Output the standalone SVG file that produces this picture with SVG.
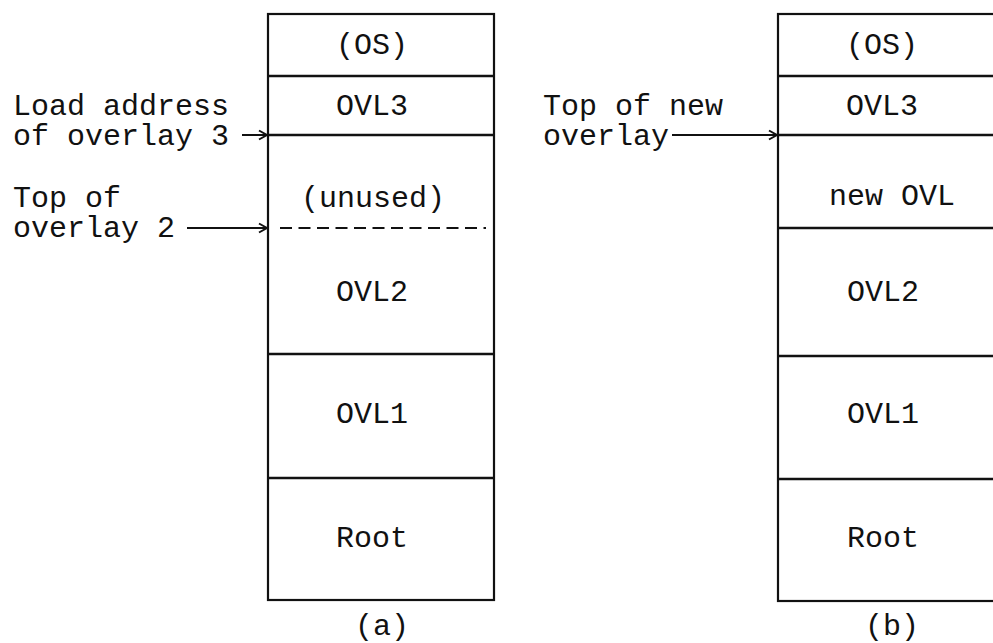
<svg xmlns="http://www.w3.org/2000/svg" width="993" height="643" viewBox="0 0 993 643">
  <style>
    text { font-family: "Liberation Mono", "DejaVu Sans Mono", monospace; font-size: 30px; fill: #111; }
    .c { text-anchor: middle; }
    .box { fill: none; stroke: #111; stroke-width: 2.2; }
    .div { stroke: #111; stroke-width: 2.6; }
    .arr { stroke: #111; stroke-width: 2; fill: none; }
    .dash { stroke: #111; stroke-width: 2.2; stroke-dasharray: 12 6.5; }
  </style>
  <defs>
    <marker id="head" markerWidth="12" markerHeight="12" refX="10" refY="6" orient="auto" markerUnits="userSpaceOnUse">
      <path d="M2,1.5 L10,6 L2,10.5" fill="none" stroke="#111" stroke-width="2"/>
    </marker>
  </defs>
  <rect width="993" height="643" fill="#fff"/>

  <!-- memory map (a) -->
  <g id="map-a">
    <rect class="box" x="268" y="14" width="226" height="586"/>
    <line class="div" x1="268" y1="76" x2="494" y2="76"/>
    <line class="div" x1="268" y1="135" x2="494" y2="135"/>
    <line class="dash" x1="280" y1="228" x2="486" y2="228"/>
    <line class="div" x1="268" y1="354" x2="494" y2="354"/>
    <line class="div" x1="268" y1="478" x2="494" y2="478"/>
    <text class="c" x="372" y="54">(OS)</text>
    <text class="c" x="372" y="115">OVL3</text>
    <text class="c" x="373" y="207">(unused)</text>
    <text class="c" x="372" y="301">OVL2</text>
    <text class="c" x="372" y="423">OVL1</text>
    <text class="c" x="372" y="547">Root</text>
    <text class="c" x="382" y="635">(a)</text>
  </g>

  <!-- memory map (b) -->
  <g id="map-b">
    <rect class="box" x="778" y="14" width="226" height="587"/>
    <line class="div" x1="778" y1="76" x2="1004" y2="76"/>
    <line class="div" x1="778" y1="135" x2="1004" y2="135"/>
    <line class="div" x1="778" y1="228" x2="1004" y2="228"/>
    <line class="div" x1="778" y1="356" x2="1004" y2="356"/>
    <line class="div" x1="778" y1="479" x2="1004" y2="479"/>
    <text class="c" x="882" y="54">(OS)</text>
    <text class="c" x="882" y="115">OVL3</text>
    <text class="c" x="892" y="205">new OVL</text>
    <text class="c" x="883" y="301">OVL2</text>
    <text class="c" x="883" y="423">OVL1</text>
    <text class="c" x="883" y="547">Root</text>
    <text class="c" x="892" y="635">(b)</text>
  </g>

  <!-- pointer labels -->
  <g id="label-load">
    <text x="13" y="115">Load address</text>
    <text x="13" y="145">of overlay 3</text>
  </g>
  <g id="label-top2">
    <text x="13" y="207">Top of</text>
    <text x="13" y="237">overlay 2</text>
  </g>
  <g id="label-topnew">
    <text x="543" y="115">Top of new</text>
    <text x="543" y="145">overlay</text>
  </g>

  <!-- connectors -->
  <g id="connectors">
    <line class="arr" x1="242" y1="135" x2="267" y2="135" marker-end="url(#head)"/>
    <line class="arr" x1="187" y1="228" x2="267" y2="228" marker-end="url(#head)"/>
    <line class="arr" x1="672" y1="135" x2="777" y2="135" marker-end="url(#head)"/>
  </g>
</svg>
